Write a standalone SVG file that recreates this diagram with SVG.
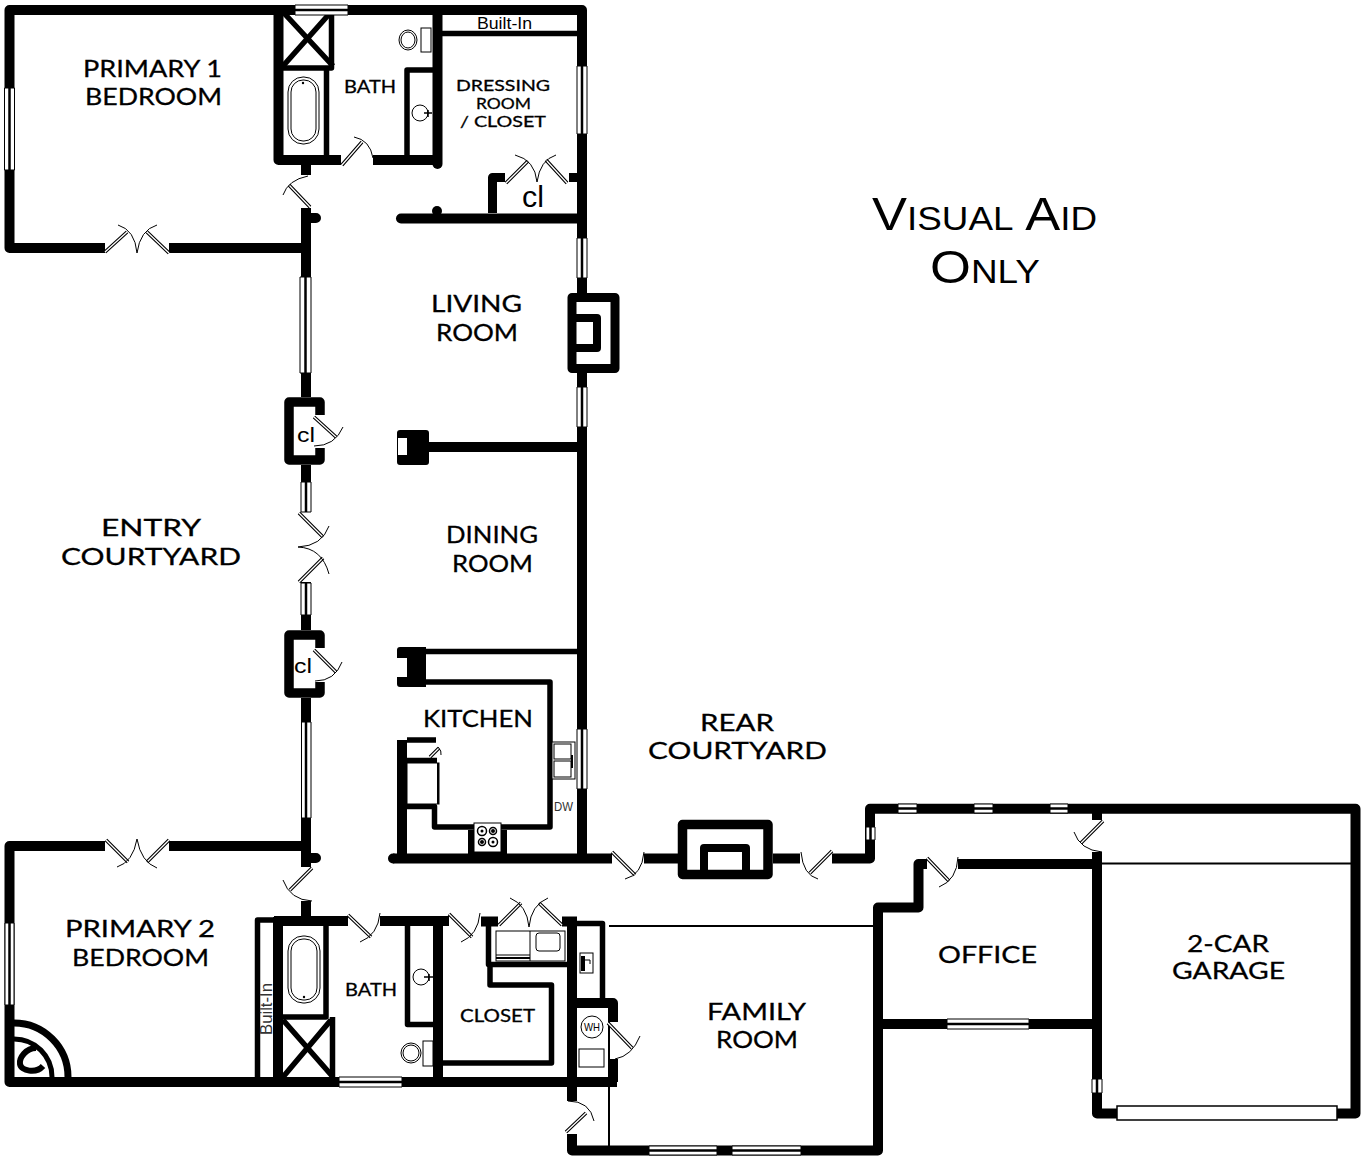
<svg xmlns="http://www.w3.org/2000/svg" xmlns:xlink="http://www.w3.org/1999/xlink" width="1365" height="1159" viewBox="0 0 1365 1159">
<style>
.w{fill:none;stroke:#000;stroke-width:10;stroke-linejoin:round}
.r{stroke-linecap:round}
.t{fill:none;stroke:#000;stroke-width:5.5;stroke-linejoin:round}
.thin{fill:none;stroke:#000;stroke-width:2}
.hair{fill:none;stroke:#000;stroke-width:1}
.fx{fill:#fff;stroke:#000;stroke-width:1}
.win{fill:#fff;stroke:#000;stroke-width:1}
.winc{fill:none;stroke:#000;stroke-width:2.500}
.leafO{fill:none;stroke:#000;stroke-width:3.500}
.leafI{fill:none;stroke:#fff;stroke-width:1.300}
.lab{font-family:"Lato","Liberation Sans",sans-serif;fill:#000;stroke:#000;stroke-width:.3}
.sm{font-family:"Liberation Sans",Arial,sans-serif;fill:#000}
.va{font-family:"Liberation Sans",Arial,sans-serif;fill:#000;font-variant:small-caps}
</style>
<defs>
<path id="leaves" d="M310 207L289 185M342 165L362 142M506 183L528 161M567 183L546 160M105 252L127 232M169 253L147 232M314 417L336 437M299 513L323 537M299 582L323 558M314 650L336 672M430 757L439 748M612 852L635 875M832 851L810 873M1103 821L1081 843M927 858L949 881M106 840L128 862M169 840L147 862M312 868L290 890M348 915L371 937M449 914L472 937M499 925L521 903M562 925L539 903M608 1023L632 1048M566 1132L586 1113"/>
</defs>
<rect width="1365" height="1159" fill="#fff"/>

<g id="walls">
<path class="w" d="M105 248H9.500V10H582V293M169 248H306M306 208V397M306 465V512M306 582V630M306 698V867M306 165V175M306 901V921"/>
<path class="w" d="M278.500 10V160H341M373 160H437.500"/>
<path class="w r" d="M437.500 10V164"/>
<path class="w r" d="M401 218.500H582"/>
<path class="w r" d="M306 218H316M306 858H316"/>
<path class="w" d="M582 373V858M428 447H582"/>
<path class="w" style="stroke-width:9" d="M572 297.500H615V368.500H572Z"/>
<path class="w" style="stroke-width:8" d="M576 318H597V348H576"/>
<path class="t" d="M331.500 10V68H283M326.500 68V158"/>
<path class="t" d="M283 12L333 66M331 12L283 66"/>
<path class="t" d="M407 160V70H435"/>
<path class="t" d="M442 33.500H578"/>
<path class="w" style="stroke-width:9" d="M492.500 213V177.500H505M569 177.500H578"/>
<path class="w" style="stroke-width:9.500" d="M289 411V402H320V415M320 448V460H289V402"/>
<path class="w" style="stroke-width:9.500" d="M289 644V635H320V648M320 682V693H289V635"/>
<path d="M397 433Q397 430 400 430H426Q429 430 429 433V462Q429 465 426 465H400Q397 465 397 462ZM398 438V455H407V438Z" fill="#000" fill-rule="evenodd"/>
<path d="M397 650Q397 647 400 647H426V687H400Q397 687 397 684V677H407V658H397Z" fill="#000"/>
<path class="t" d="M426 651.500H582M426 682H550V827H434.500V806.500H407M407 740H436M407 760.500H437"/>
<path class="w" d="M402 740V858"/>
<circle cx="393" cy="858.500" r="5"/>
<path class="w" d="M393 858.500H612M644 858.500H680M773 858.500H800"/>
<path class="w" d="M832 858.500H870V808.800H1355.500V1113.500H1337M1117 1113.500H1097V852M1097 813V820M958 864H1097M927 864H918.500V907.500H878V1150.500H572V1134M878 1024H1092"/>
<path class="w" style="stroke-width:9.500" d="M682.500 858V824.500H768V874.500H682.500V858"/>
<path class="w" style="stroke-width:8" d="M704 871V848H746V871"/>
<path class="w" d="M105 846H9.500V1082H617M169 846H306"/>
<path class="w" d="M274 921H348M380 921H449M481 921.500H498M562 921.500H577M278 917V1082M438 921V1082M572 917V1101M577 1003H613V1022M613 1059V1082"/>
<path class="t" d="M274 920H257.500V1077M326 926V1017H283M332.500 1017V1077"/>
<path class="t" d="M283 1020L333 1077M331 1020L283 1077"/>
<path class="t" d="M407.500 921V1024.500H433M443 1063H551.500V985H490V966M488.500 926V964.500H567M577 923.500H602.500V1000"/>
<circle cx="437" cy="211" r="5"/>
<path class="thin" d="M1102 863.500H1351M609 926H873M609 1001V1146"/>
<path class="w" style="stroke-width:7" d="M68 1077A54 54 0 0 0 14 1023"/>
<path class="w" style="stroke-width:5" d="M52 1077A38 38 0 0 0 14 1039"/>
<path class="w" style="stroke-width:6" d="M36 1048C26 1048 19 1058 20 1064C21 1071 36 1074 43 1066"/>
</g>

<g id="windows">
<path id="wv" class="win" d="M4.500 88h10v82h-10zM577 66h10v68h-10zM577 238h10v40h-10zM300 277h11v96h-11zM577 387h10v40h-10zM301 482h10v30h-10zM301 583h10v32h-10zM301.500 722h9.500v96h-9.500zM577 729h10v60h-10zM866 827h9v13h-9zM5 923h9v82h-9zM1092 1079h10v14h-10z"/>
<path class="winc" d="M9.500 88v82M582 66v68M582 238v40M305.500 277v96M582 387v40M306 482v30M306 583v32M306 722v96M582 729v60M870.500 827v13M9.500 923v82M1097 1079v14"/>
<path class="win" d="M295 5h53v10h-53zM898 804h19v9h-19zM974 804h19v9h-19zM1050 804h18v9h-18zM947 1019h82v10h-82zM339 1077h63v10h-63zM649 1146h68v9h-68zM732 1146h69v9h-69z"/>
<path class="winc" d="M295 10h53M898 808.500h19M974 808.500h19M1050 808.500h18M947 1024h82M339 1082h63M649 1150.500h68M732 1150.500h69"/>
<rect x="1117" y="1106" width="220" height="14" fill="#fff" stroke="#000" stroke-width="1.500"/>
</g>

<g id="doors">
<use xlink:href="#leaves" href="#leaves" class="leafO"/>
<use xlink:href="#leaves" href="#leaves" class="leafI"/>
<path class="hair" d="M283 195Q288 180 308 176M354 137Q370 140 373 158M515 155Q535 160 537 182M556 155Q540 160 537 182M118 225Q135 230 137 253M157 225Q140 230 137 253M343 427Q335 446 314 446M329 526Q322 546 298 547M329 574Q322 548 298 547M342 662Q335 681 315 681M438 747Q442 751 441 755M625 879Q642 875 644 852M801 852Q803 875 818 879M1074 832Q1080 850 1102 852M939 887Q957 880 958 857M117 867Q133 862 137 839M157 868Q141 862 137 839M283 880Q290 900 312 901M360 942Q378 935 380 913M461 942Q478 935 480 913M510 898Q527 905 529 927M548 898Q531 905 529 927M640 1036Q632 1056 615 1059M568 1101Q590 1101 594 1121"/>
</g>

<g id="fixtures">
<rect class="fx" x="288" y="77" width="31" height="67" rx="15"/><rect class="fx" x="291" y="80" width="25" height="61" rx="12"/><circle cx="303" cy="83" r="1.200"/>
<rect class="fx" x="288" y="936" width="32" height="67" rx="15"/><rect class="fx" x="291" y="939" width="26" height="61" rx="12"/><circle cx="304" cy="997" r="1.200"/>
<rect class="fx" x="421" y="28" width="10" height="24"/><ellipse class="fx" cx="408" cy="40" rx="9" ry="10"/><ellipse class="fx" cx="408" cy="40" rx="7" ry="8"/>
<rect class="fx" x="423" y="1041" width="10" height="25"/><ellipse class="fx" cx="411" cy="1053" rx="10" ry="10"/><ellipse class="fx" cx="411" cy="1053" rx="8" ry="8"/>
<circle class="fx" cx="420" cy="113" r="8"/><path d="M424 113H432M428 110V117" stroke="#000" stroke-width="1.500"/>
<circle class="fx" cx="421" cy="977" r="8"/><path d="M424 977H433M429 974V981" stroke="#000" stroke-width="1.500"/>
<rect class="fx" x="407" y="763" width="32" height="41"/><path class="thin" d="M438 763V804"/>
<rect class="fx" x="552" y="742" width="23" height="37"/><rect class="fx" x="554" y="744" width="17" height="15"/><rect class="fx" x="554" y="761" width="17" height="16"/><path d="M572 755V768" stroke="#000" stroke-width="2"/>
<rect x="468" y="830" width="39" height="25"/>
<rect class="fx" x="474" y="823" width="27" height="29"/>
<g fill="#fff" stroke="#000" stroke-width="1.500"><circle cx="482" cy="831" r="4.500"/><circle cx="493" cy="831" r="3.500"/><circle cx="482" cy="842" r="3.500"/><circle cx="493" cy="842" r="4.500"/></g>
<g><circle cx="482" cy="831" r="1.500"/><circle cx="493" cy="831" r="2"/><circle cx="482" cy="842" r="2"/><circle cx="493" cy="842" r="1.500"/></g>
<rect class="fx" x="496" y="931" width="69" height="30"/><path class="hair" d="M530 931V961M496 955H530"/><path class="thin" d="M496 958H530"/><rect class="fx" x="536" y="933" width="24" height="18" rx="3"/>
<rect class="fx" x="580" y="953" width="13" height="20"/><path d="M581 956h4v15h-4z"/><path class="hair" d="M585 960h5v4"/>
<circle class="fx" cx="592" cy="1027" r="11"/><rect class="fx" x="579" y="1049" width="25" height="18"/>
</g>

<g id="labels">
<text class="lab" x="83" y="77" font-size="24" textLength="139" lengthAdjust="spacingAndGlyphs">PRIMARY 1</text>
<text class="lab" x="85" y="105" font-size="24" textLength="137" lengthAdjust="spacingAndGlyphs">BEDROOM</text>
<text class="lab" x="344" y="93" font-size="18" textLength="52" lengthAdjust="spacingAndGlyphs">BATH</text>
<text class="sm" x="477" y="29" font-size="16" textLength="55" lengthAdjust="spacingAndGlyphs">Built-In</text>
<text class="lab" x="456" y="91" font-size="15.500" textLength="94" lengthAdjust="spacingAndGlyphs">DRESSING</text>
<text class="lab" x="476" y="109" font-size="15.500" textLength="55" lengthAdjust="spacingAndGlyphs">ROOM</text>
<text class="lab" x="460" y="127" font-size="15.500" textLength="86" lengthAdjust="spacingAndGlyphs">/ CLOSET</text>
<text class="sm" x="522" y="207" font-size="29" textLength="22" lengthAdjust="spacingAndGlyphs">cl</text>
<text class="lab" x="431" y="312" font-size="24" textLength="91" lengthAdjust="spacingAndGlyphs">LIVING</text>
<text class="lab" x="436" y="341" font-size="24" textLength="82" lengthAdjust="spacingAndGlyphs">ROOM</text>
<text class="sm" x="297" y="442" font-size="21" textLength="18" lengthAdjust="spacingAndGlyphs">cl</text>
<text class="sm" x="294" y="673" font-size="21" textLength="18" lengthAdjust="spacingAndGlyphs">cl</text>
<text class="lab" x="446" y="543" font-size="24" textLength="92" lengthAdjust="spacingAndGlyphs">DINING</text>
<text class="lab" x="452" y="572" font-size="24" textLength="81" lengthAdjust="spacingAndGlyphs">ROOM</text>
<text class="lab" x="101" y="536" font-size="24" textLength="100" lengthAdjust="spacingAndGlyphs">ENTRY</text>
<text class="lab" x="61" y="565" font-size="24" textLength="180" lengthAdjust="spacingAndGlyphs">COURTYARD</text>
<text class="lab" x="423" y="727" font-size="24" textLength="110" lengthAdjust="spacingAndGlyphs">KITCHEN</text>
<text class="sm" x="554" y="811" font-size="12" textLength="19" lengthAdjust="spacingAndGlyphs" style="fill:#333">DW</text>
<text class="lab" x="700" y="731" font-size="24" textLength="74" lengthAdjust="spacingAndGlyphs">REAR</text>
<text class="lab" x="648" y="759" font-size="24" textLength="179" lengthAdjust="spacingAndGlyphs">COURTYARD</text>
<text class="lab" x="65" y="937" font-size="24" textLength="150" lengthAdjust="spacingAndGlyphs">PRIMARY 2</text>
<text class="lab" x="72" y="966" font-size="24" textLength="137" lengthAdjust="spacingAndGlyphs">BEDROOM</text>
<text class="lab" x="345" y="996" font-size="18" textLength="52" lengthAdjust="spacingAndGlyphs">BATH</text>
<text class="sm" transform="translate(272 1035) rotate(-90)" font-size="16" textLength="52" lengthAdjust="spacingAndGlyphs" style="fill:#333">Built-In</text>
<text class="lab" x="460" y="1022" font-size="18" textLength="75" lengthAdjust="spacingAndGlyphs">CLOSET</text>
<text class="sm" x="584" y="1031" font-size="11" textLength="16" lengthAdjust="spacingAndGlyphs">WH</text>
<text class="lab" x="707" y="1020" font-size="24" textLength="99" lengthAdjust="spacingAndGlyphs">FAMILY</text>
<text class="lab" x="716" y="1048" font-size="24" textLength="82" lengthAdjust="spacingAndGlyphs">ROOM</text>
<text class="lab" x="938" y="963" font-size="24" textLength="99" lengthAdjust="spacingAndGlyphs">OFFICE</text>
<text class="lab" x="1187" y="952" font-size="24" textLength="82" lengthAdjust="spacingAndGlyphs">2-CAR</text>
<text class="lab" x="1172" y="979" font-size="24" textLength="113" lengthAdjust="spacingAndGlyphs">GARAGE</text>
<text class="va" x="872" y="230" font-size="47" textLength="225" lengthAdjust="spacingAndGlyphs">Visual Aid</text>
<text class="va" x="930" y="283" font-size="47" textLength="110" lengthAdjust="spacingAndGlyphs">Only</text>
</g>
</svg>
